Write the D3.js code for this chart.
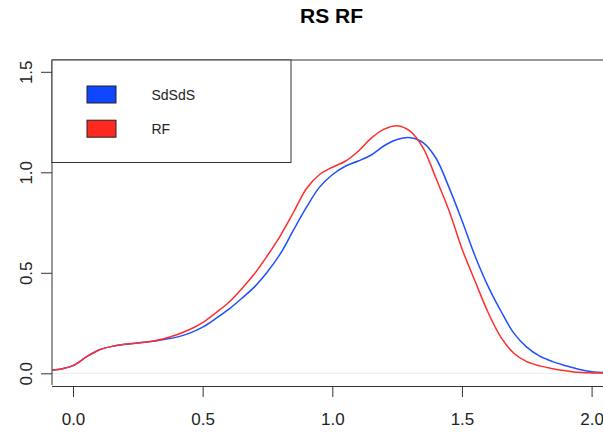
<!DOCTYPE html>
<html>
<head>
<meta charset="utf-8">
<script src="https://cdn.jsdelivr.net/npm/d3@7"></script>
<style>
  html, body { margin: 0; padding: 0; background: #fff; }
  svg { display: block; font-family: "Liberation Sans", Arial, Helvetica, sans-serif; }
</style>
</head>
<body>
<svg id="chart" width="603" height="432"></svg>
<script>
// Density estimates evaluated on a common grid
const gridX = [-0.08, -0.04, 0.0, 0.05, 0.1, 0.15, 0.2, 0.25, 0.3, 0.35, 0.4, 0.45, 0.5, 0.55, 0.6, 0.65, 0.7, 0.75,
  0.8, 0.85, 0.9, 0.95, 1.0, 1.05, 1.1, 1.15, 1.2, 1.25, 1.3, 1.35, 1.4, 1.45, 1.5, 1.55, 1.6, 1.65, 1.7,
  1.75, 1.8, 1.85, 1.9, 1.95, 2.0, 2.05];
const sdsdsDensity = [0.016, 0.023, 0.038, 0.080, 0.116, 0.134, 0.145, 0.151, 0.158, 0.168, 0.180, 0.200, 0.230, 0.272,
  0.318, 0.372, 0.430, 0.505, 0.595, 0.712, 0.825, 0.925, 0.988, 1.030, 1.056, 1.086, 1.132, 1.163, 1.172,
  1.148, 1.070, 0.925, 0.760, 0.585, 0.435, 0.310, 0.200, 0.130, 0.085, 0.058, 0.038, 0.020, 0.008, 0.004];
const rfDensity = [0.016, 0.023, 0.038, 0.080, 0.116, 0.134, 0.145, 0.151, 0.158, 0.172, 0.192, 0.218, 0.252, 0.300,
  0.352, 0.420, 0.495, 0.586, 0.685, 0.800, 0.918, 0.988, 1.025, 1.055, 1.105, 1.170, 1.215, 1.232, 1.205,
  1.122, 0.970, 0.810, 0.620, 0.460, 0.305, 0.180, 0.100, 0.058, 0.037, 0.023, 0.013, 0.005, 0.002, 0.001];
const seriesNames = ["SdSdS", "RF"];
const seriesColors = ["#1f4fff", "#ff2d2d"];
const swatchColors = ["#0f46ff", "#ff2a1f"];
const xTicks = [0.0, 0.5, 1.0, 1.5, 2.0];
const yTicks = [0.0, 0.5, 1.0, 1.5];
const titleText = "RS RF";

const svg = d3.select("#chart");
const plotLeft = 52, plotTop = 60, plotRight = 603, plotBottom = 385;

const x = d3.scaleLinear().domain([0, 2]).range([73, 591.6]);
const y = d3.scaleLinear().domain([0, 1.5]).range([373.3, 71.8]);

const ink = "#333";

// Title
svg.append("text")
  .attr("x", 331.5).attr("y", 23)
  .attr("text-anchor", "middle")
  .attr("font-size", 21).attr("font-weight", "bold")
  .attr("fill", "#000")
  .text(titleText);

// Clip for plotted curves
svg.append("defs").append("clipPath").attr("id", "plotClip")
  .append("rect").attr("x", plotLeft).attr("y", plotTop)
  .attr("width", plotRight - plotLeft).attr("height", plotBottom - plotTop);

// Baseline at zero density
svg.append("line")
  .attr("x1", plotLeft).attr("x2", plotRight)
  .attr("y1", y(0)).attr("y2", y(0))
  .attr("stroke", "#ececec").attr("stroke-width", 1);

// Curves
const line = d3.line()
  .x((d, i) => x(gridX[i]))
  .y(d => y(d))
  .curve(d3.curveCatmullRom.alpha(0.5));

const g = svg.append("g").attr("clip-path", "url(#plotClip)");
[sdsdsDensity, rfDensity].forEach((vals, k) => {
  g.append("path")
    .attr("d", line(vals))
    .attr("fill", "none")
    .attr("stroke", seriesColors[k])
    .attr("stroke-width", 1.5);
});

// Plot frame (left and top edges visible)
svg.append("path")
  .attr("d", `M${plotLeft},${plotBottom}V${plotTop}H${plotRight}`)
  .attr("fill", "none").attr("stroke", ink).attr("stroke-width", 1);

// X axis
const xAxis = d3.axisBottom(x).tickValues(xTicks).tickFormat(d3.format(".1f")).tickSize(11).tickPadding(16);
const gx = svg.append("g").attr("transform", `translate(0,${plotBottom + 1})`).call(xAxis);
gx.select(".domain").attr("d", `M${plotLeft},0.5H${plotRight}`).attr("stroke", ink);
gx.selectAll(".tick line").attr("stroke", ink);
gx.selectAll(".tick text").attr("font-size", 17).attr("fill", "#222")
  .attr("font-family", "'Liberation Sans', Arial, sans-serif");

// Y axis with rotated labels
const gy = svg.append("g").attr("transform", `translate(${plotLeft},0)`)
  .call(d3.axisLeft(y).tickValues(yTicks).tickFormat(d3.format(".1f")).tickSize(11));
gy.select(".domain").remove();
gy.selectAll(".tick line").attr("stroke", ink);
gy.selectAll(".tick text")
  .attr("font-size", 17).attr("fill", "#222")
  .attr("font-family", "'Liberation Sans', Arial, sans-serif")
  .attr("x", null).attr("dy", null)
  .attr("text-anchor", "middle")
  .attr("transform", "translate(-26,0) rotate(-90)")
  .attr("y", 0).attr("dy", "0.35em");

// Legend
const legend = svg.append("g");
legend.append("rect")
  .attr("x", plotLeft).attr("y", plotTop).attr("width", 291 - plotLeft).attr("height", 162.5 - plotTop)
  .attr("fill", "#fff").attr("stroke", ink).attr("stroke-width", 1);
seriesNames.forEach((name, k) => {
  const cy = 94.5 + k * 34.2;
  legend.append("rect")
    .attr("x", 87).attr("y", cy - 8.5).attr("width", 29).attr("height", 17)
    .attr("fill", swatchColors[k]).attr("stroke", "#222").attr("stroke-width", 1);
  legend.append("text")
    .attr("x", 151.5).attr("y", cy + 5)
    .attr("font-size", 14).attr("fill", "#222")
    .text(name);
});
</script>
</body>
</html>
